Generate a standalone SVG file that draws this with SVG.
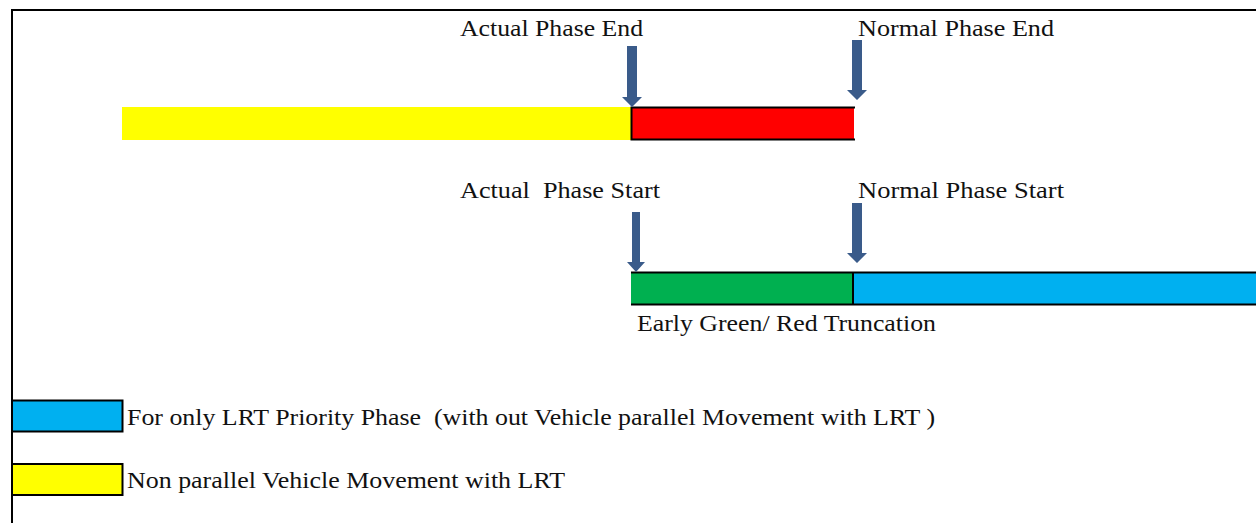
<svg xmlns="http://www.w3.org/2000/svg" width="1256" height="523" viewBox="0 0 1256 523">
<style>
text{font-family:"Liberation Serif","Times New Roman",serif;fill:#111;white-space:pre}
.t{font-size:23px}
.l{font-size:24px}
.edge{stroke:#000;stroke-width:2;fill:none}
.arrow{fill:#3A5B8A}
</style>
<rect width="1256" height="523" fill="#fff"/>
<g id="frame"><path class="edge" d="M12,523 V10 H1256"/></g>
<g id="bar-yellow"><rect x="122" y="107" width="509" height="33" fill="#FFFF00"/></g>
<g id="bar-red"><rect x="631" y="107" width="223" height="33" fill="#FF0000"/><path class="edge" d="M855,107.5 H631.5 V139.5 H855"/></g>
<g id="bar-green"><rect x="631" y="272" width="222" height="33" fill="#00B050"/></g>
<g id="bar-blue"><rect x="853" y="272" width="403" height="33" fill="#00B0F0"/><path class="edge" d="M631,272.5 H1256 M631,304.5 H1256 M853,272 V305"/></g>
<g id="legend-blue"><rect x="12" y="400.5" width="110.5" height="31" fill="#00B0F0" stroke="#000" stroke-width="2"/><text class="l" x="127" y="425" textLength="808" lengthAdjust="spacingAndGlyphs">For only LRT Priority Phase  (with out Vehicle parallel Movement with LRT )</text></g>
<g id="legend-yellow"><rect x="12" y="464" width="110.5" height="31" fill="#FFFF00" stroke="#000" stroke-width="2"/><text class="l" x="127" y="488" textLength="438" lengthAdjust="spacingAndGlyphs">Non parallel Vehicle Movement with LRT</text></g>
<g id="label-actual-end"><text class="t" x="460" y="36" textLength="183" lengthAdjust="spacingAndGlyphs">Actual Phase End</text></g>
<g id="label-normal-end"><text class="t" x="858" y="36" textLength="196" lengthAdjust="spacingAndGlyphs">Normal Phase End</text></g>
<g id="label-actual-start"><text class="t" x="460" y="198" textLength="200" lengthAdjust="spacingAndGlyphs">Actual  Phase Start</text></g>
<g id="label-normal-start"><text class="t" x="858" y="198" textLength="206" lengthAdjust="spacingAndGlyphs">Normal Phase Start</text></g>
<g id="label-early"><text class="l" x="637" y="331" textLength="299" lengthAdjust="spacingAndGlyphs">Early Green/ Red Truncation</text></g>
<g id="connectors">
<path class="arrow" d="M627,46 H637 V97 H642 L632,107 L622,97 H627 Z"/>
<path class="arrow" d="M852,40 H862 V90 H867 L857,100 L847,90 H852 Z"/>
<path class="arrow" d="M632,212 H640 V262 H645 L636,272 L627,262 H632 Z"/>
<path class="arrow" d="M852,203 H862 V253 H867 L857,263 L847,253 H852 Z"/>
</g>
</svg>
